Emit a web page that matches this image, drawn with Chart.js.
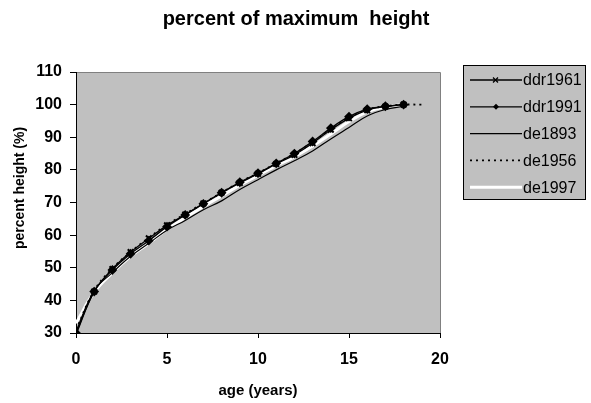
<!DOCTYPE html>
<html>
<head>
<meta charset="utf-8">
<script src="https://cdn.jsdelivr.net/npm/chart.js@4/dist/chart.umd.min.js"></script>
<style>
  html, body { margin: 0; padding: 0; background: #fff; }
  #wrap { width: 591px; height: 403px; }
</style>
</head>
<body>
<div id="wrap"><canvas id="myChart" width="591" height="403"></canvas></div>
<script>
// age in years, one point per year
const ages = [0, 1, 2, 3, 4, 5, 6, 7, 8, 9, 10, 11, 12, 13, 14, 15, 16, 17, 18, 19];

// percent of final height per survey
const ddr1961 = [29.5, 42.7, 49.6, 54.8, 59.0, 63.0, 66.3, 69.7, 73.0, 76.0, 78.8, 81.8, 84.6, 88.2, 92.3, 95.8, 98.3, 99.4, 100];
const ddr1991 = [30.0, 42.7, 49.3, 54.3, 58.3, 62.6, 66.2, 69.6, 73.0, 76.2, 79.0, 82.0, 85.0, 88.7, 92.8, 96.3, 98.6, 99.5, 100];
const de1893 = [30.5, 43.0, 48.5, 53.5, 57.5, 61.5, 64.5, 67.8, 70.5, 74.0, 77.0, 80.0, 82.8, 85.8, 89.5, 93.0, 96.5, 98.5, 99.5];
const de1956 = [31.0, 43.0, 49.8, 54.8, 59.2, 63.2, 66.5, 69.8, 73.0, 76.3, 79.0, 82.0, 85.0, 88.5, 92.5, 96.0, 98.5, 99.5, 100, 100];
const de1997 = [33.0, 42.5, 48.5, 53.5, 57.5, 61.8, 65.3, 68.8, 72.0, 75.3, 78.3, 81.3, 84.0, 87.3, 91.0, 94.8, 97.8, 99.3, 100];

const yTicks = [30, 40, 50, 60, 70, 80, 90, 100, 110];
const xTicks = [0, 5, 10, 15, 20];

const FONT = "'Liberation Sans', Arial, sans-serif";

const toPoints = values => values.map((v, i) => ({ x: ages[i], y: v }));

const series = [
  { label: 'ddr1961', data: ddr1961, color: '#000', width: 1.3, dash: [], point: 'crossRot', radius: 4 },
  { label: 'ddr1991', data: ddr1991, color: '#000', width: 1.3, dash: [], point: 'rectRot', radius: 3.5 },
  { label: 'de1893', data: de1893, color: '#000', width: 1.2, dash: [], point: false, radius: 0 },
  { label: 'de1956', data: de1956, color: '#000', width: 1.8, dash: [2, 4], point: false, radius: 0 },
  { label: 'de1997', data: de1997, color: '#fff', width: 3, dash: [], point: false, radius: 0 }
];

// title, rotated y title and the boxed legend are painted by hand
const decorations = {
  id: 'decorations',
  beforeDraw(chart) {
    const { ctx, chartArea: a } = chart;
    ctx.save();
    ctx.fillStyle = '#C0C0C0';
    ctx.fillRect(a.left, a.top, a.right - a.left, a.bottom - a.top);
    ctx.strokeStyle = '#808080';
    ctx.lineWidth = 1;
    ctx.beginPath();
    ctx.moveTo(a.left, a.top + 0.5);
    ctx.lineTo(a.right + 0.5, a.top + 0.5);
    ctx.lineTo(a.right + 0.5, a.bottom);
    ctx.stroke();
    ctx.restore();
  },
  afterDraw(chart) {
    const { ctx } = chart;
    ctx.save();
    ctx.fillStyle = '#000';
    ctx.textAlign = 'center';
    ctx.textBaseline = 'middle';
    ctx.font = 'bold 20px ' + FONT;
    ctx.fillText('percent of maximum  height', 296, 19);

    ctx.translate(20, 188);
    ctx.rotate(-Math.PI / 2);
    ctx.font = 'bold 14px ' + FONT;
    ctx.fillText('percent height (%)', 0, 0);
    ctx.restore();

    // legend
    ctx.save();
    const bx = 463.5, by = 65.5, bw = 122, bh = 134;
    ctx.fillStyle = '#C0C0C0';
    ctx.fillRect(bx, by, bw, bh);
    ctx.strokeStyle = '#000';
    ctx.lineWidth = 1;
    ctx.strokeRect(bx, by, bw, bh);
    ctx.font = '16px ' + FONT;
    ctx.textAlign = 'left';
    ctx.textBaseline = 'middle';
    series.forEach((s, i) => {
      const y = 80 + i * 26.8;
      ctx.strokeStyle = s.color;
      ctx.lineWidth = s.width;
      ctx.setLineDash(s.dash);
      ctx.beginPath();
      ctx.moveTo(470, y);
      ctx.lineTo(522, y);
      ctx.stroke();
      ctx.setLineDash([]);
      if (s.point === 'crossRot') {
        ctx.lineWidth = 1.3;
        ctx.strokeStyle = '#000';
        ctx.beginPath();
        ctx.moveTo(493, y - 2.5); ctx.lineTo(498, y + 2.5);
        ctx.moveTo(498, y - 2.5); ctx.lineTo(493, y + 2.5);
        ctx.stroke();
      } else if (s.point === 'rectRot') {
        ctx.fillStyle = '#000';
        ctx.beginPath();
        ctx.moveTo(496, y - 3); ctx.lineTo(499, y); ctx.lineTo(496, y + 3); ctx.lineTo(493, y);
        ctx.closePath();
        ctx.fill();
      }
      ctx.fillStyle = '#000';
      ctx.fillText(s.label, 523, y + 1);
    });
    ctx.restore();
  }
};

new Chart(document.getElementById('myChart'), {
  type: 'line',
  data: {
    datasets: series.map((s, i) => ({
      label: s.label,
      data: toPoints(s.data),
      borderColor: s.color,
      backgroundColor: '#000',
      borderWidth: s.width,
      borderDash: s.dash,
      pointStyle: s.point,
      pointRadius: s.radius,
      pointBorderColor: '#000',
      pointBackgroundColor: '#000',
      pointBorderWidth: 2,
      tension: 0.4,
      fill: false,
      order: i === 4 ? 5 : i
    }))
  },
  options: {
    responsive: false,
    animation: false,
    layout: { padding: { top: 72, right: 151, left: 0, bottom: 0 } },
    plugins: {
      legend: { display: false },
      title: { display: false },
      tooltip: { enabled: false }
    },
    scales: {
      x: {
        type: 'linear',
        min: 0,
        max: 20,
        afterFit: scale => { scale.height = 70; },
        afterBuildTicks: scale => { scale.ticks = xTicks.map(v => ({ value: v })); },
        border: { display: true, color: '#000', width: 1 },
        grid: { drawOnChartArea: false, tickLength: 5, color: '#000' },
        ticks: { color: '#000', padding: 12, font: { family: FONT, size: 16, weight: 'bold' } },
        title: {
          display: true,
          text: 'age (years)',
          color: '#000',
          padding: { top: 0, bottom: 3 },
          font: { family: FONT, size: 15, weight: 'bold' }
        }
      },
      y: {
        min: 30,
        max: 110,
        afterFit: scale => { scale.width = 76; },
        afterBuildTicks: scale => { scale.ticks = yTicks.map(v => ({ value: v })); },
        border: { display: true, color: '#000', width: 1 },
        grid: { drawOnChartArea: false, tickLength: 6, color: '#000' },
        ticks: { color: '#000', padding: 8, font: { family: FONT, size: 16, weight: 'bold' } }
      }
    }
  },
  plugins: [decorations]
});
</script>
</body>
</html>
